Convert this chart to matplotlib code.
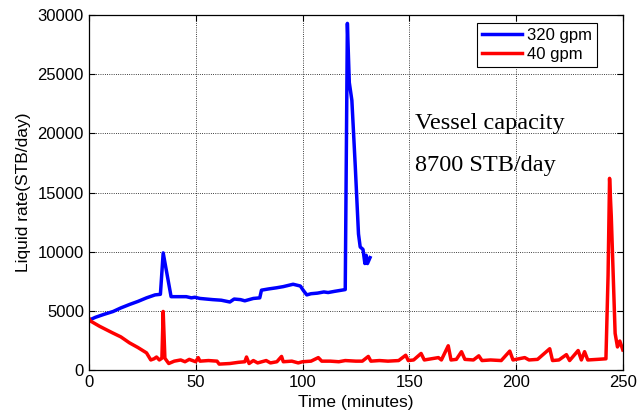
import matplotlib
matplotlib.use("Agg")
import matplotlib.pyplot as plt

# 320 gpm run
t_320 = [0, 3, 7, 11.4, 15, 19.2, 23, 27, 31, 33.5, 34.8, 36.6, 38.5, 42, 45.6, 48, 49.6,
         52, 55, 58, 62, 66, 68, 71, 73, 77, 80, 80.8, 84, 87.8, 91, 95.6, 99, 100.5,
         102, 104, 107, 110, 112, 115, 120, 121, 121.9, 123.1, 124.7, 126.2, 127, 128.3,
         129.2, 129.8, 130.4, 131.6]
q_320 = [4200, 4450, 4700, 4950, 5250, 5550, 5800, 6100, 6350, 6400, 9900, 8100, 6200, 6200,
         6200, 6100, 6150, 6050, 6000, 5950, 5900, 5750, 6000, 5950, 5850, 6050, 6100, 6750,
         6850, 6950, 7050, 7250, 7100, 6700, 6350, 6450, 6500, 6600, 6550, 6650, 6800, 29300,
         24300, 22800, 17200, 11500, 10400, 10200, 9000, 9700, 9000, 9500]

# 40 gpm run
t_40 = [0, 0.7, 5, 11, 15, 19, 23, 27, 29, 30.5, 31.7, 33, 34.2, 34.8, 35.6, 37.4, 40, 43,
        45, 47, 50, 51.2, 52, 56, 60, 61, 66, 70, 73, 73.8, 75, 77, 79, 83, 85, 88, 90.2,
        91, 95, 98, 100, 104, 107.4, 109, 113, 117, 120, 125, 128, 130.8, 132, 136, 140,
        145, 148.3, 149.5, 152, 155.5, 157, 163.6, 165, 168.2, 169.5, 172, 174.4, 176, 180,
        182.5, 184, 188, 193, 197, 198.5, 204, 206, 210, 215.7, 217, 220, 223.5, 225, 229,
        230.5, 232, 233.5, 238, 242, 243.0, 243.7, 244.5, 246.3, 247.4, 248.5, 249.9]
q_40 = [4400, 4150, 3700, 3150, 2800, 2300, 1900, 1450, 850, 950, 1100, 850, 1000, 4950,
        1000, 550, 750, 850, 700, 900, 700, 1050, 750, 800, 750, 500, 550, 650, 700, 1100,
        550, 800, 600, 800, 600, 700, 1150, 700, 750, 600, 700, 750, 1050, 750, 750, 700,
        800, 750, 750, 1150, 750, 800, 750, 800, 1250, 800, 850, 1400, 850, 1050, 850, 2050,
        850, 900, 1550, 900, 850, 1200, 800, 850, 800, 1600, 850, 1050, 850, 900, 1800, 800,
        850, 1300, 800, 1650, 850, 1550, 850, 900, 950, 8000, 16200, 13000, 3100, 1950,
        2450, 1700]

x_ticks = [0, 50, 100, 150, 200, 250]
y_ticks = [0, 5000, 10000, 15000, 20000, 25000, 30000]

plt.rcParams['font.family'] = ['Liberation Sans', 'DejaVu Sans']
plt.rcParams['font.size'] = 12

fig = plt.figure(figsize=(6.39, 4.20), dpi=100)
ax = fig.add_axes([0.139, 0.119, 0.836, 0.845])

ax.plot(t_320, q_320, color='#0000ff', lw=2.5, label='320 gpm')
ax.plot(t_40, q_40, color='#ff0000', lw=2.5, label='40 gpm')

ax.set_xlim(0, 250)
ax.set_ylim(0, 30000)
ax.set_xticks(x_ticks)
ax.set_yticks(y_ticks)
ax.tick_params(direction='in', top=True, right=True, length=4, width=0.8, labelsize=12)
ax.grid(True, color='k', linestyle=':', linewidth=0.6)
for s in ax.spines.values():
    s.set_linewidth(0.9)

ax.set_xlabel('Time (minutes)', fontsize=12.5, labelpad=4)
ax.set_ylabel('Liquid rate(STB/day)', fontsize=12.5, labelpad=5)

leg = ax.legend(loc='upper right', bbox_to_anchor=(0.951, 0.977), fancybox=False,
                framealpha=1, edgecolor='k', fontsize=12, handlelength=2.4,
                borderpad=0.3, labelspacing=0.2, handletextpad=0.3, borderaxespad=0)
leg.get_frame().set_linewidth(0.8)

ax.text(152.6, 20870, 'Vessel capacity', family='Liberation Serif', fontsize=17.5, va='center')
ax.text(152.6, 17320, '8700 STB/day', family='Liberation Serif', fontsize=17.5, va='center')

fig.savefig('out.png', dpi=100)
